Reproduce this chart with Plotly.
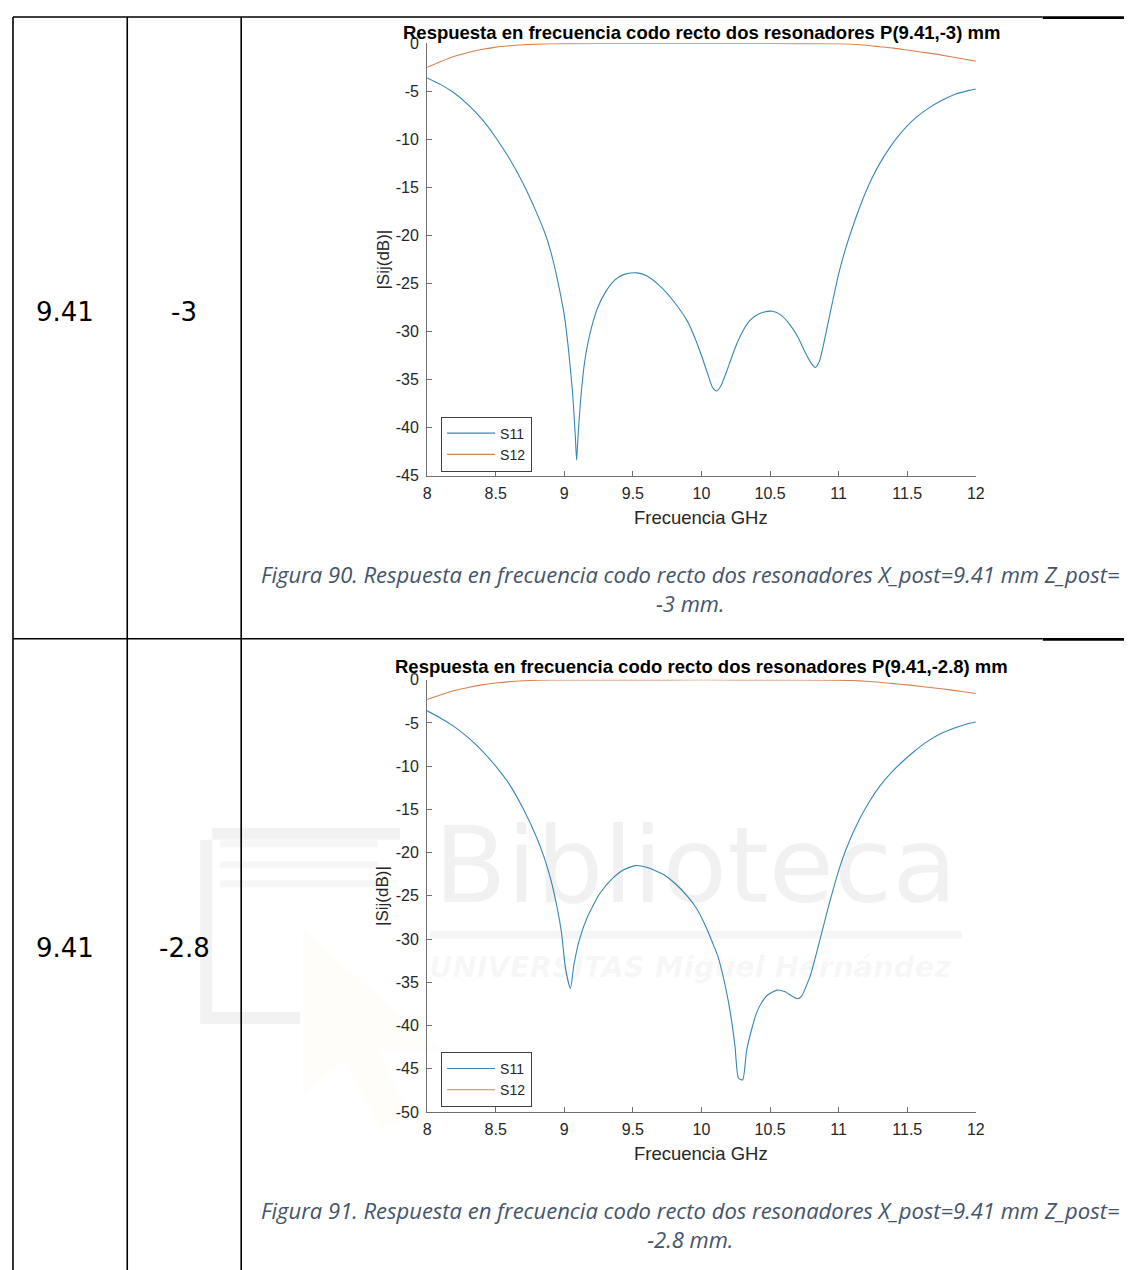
import plotly.graph_objects as go

# ---------------- data ----------------
x_post = ["9.41", "9.41"]
z_post = ["-3", "-2.8"]
chart_titles = [
    "Respuesta en frecuencia codo recto dos resonadores P(9.41,-3) mm",
    "Respuesta en frecuencia codo recto dos resonadores P(9.41,-2.8) mm",
]
captions_l1 = [
    "Figura 90. Respuesta en frecuencia codo recto dos resonadores X_post=9.41 mm Z_post=",
    "Figura 91. Respuesta en frecuencia codo recto dos resonadores X_post=9.41 mm Z_post=",
]
captions_l2 = ["-3 mm.", "-2.8 mm."]
series_names = ["S11", "S12"]

x_ticks = [8, 8.5, 9, 9.5, 10, 10.5, 11, 11.5, 12]
x_ticklabels = ["8", "8.5", "9", "9.5", "10", "10.5", "11", "11.5", "12"]
y_ticks_a = [0, -5, -10, -15, -20, -25, -30, -35, -40, -45]
y_ticklabels_a = ["0", "-5", "-10", "-15", "-20", "-25", "-30", "-35", "-40", "-45"]
y_ticks_b = [0, -5, -10, -15, -20, -25, -30, -35, -40, -45, -50]
y_ticklabels_b = ["0", "-5", "-10", "-15", "-20", "-25", "-30", "-35", "-40", "-45", "-50"]

# chart 1 (Z_post = -3)
freq_s11_a = [8.00, 8.10, 8.20, 8.30, 8.40, 8.50, 8.60, 8.70, 8.80, 8.86, 8.90, 8.95,
              9.00, 9.03, 9.06, 9.08, 9.09, 9.10, 9.12, 9.15, 9.20, 9.25, 9.30, 9.35,
              9.40, 9.45, 9.53, 9.60, 9.70, 9.80, 9.90, 9.95, 10.00, 10.05, 10.08, 10.11,
              10.14, 10.18, 10.22, 10.26, 10.30, 10.35, 10.40, 10.45, 10.52, 10.58, 10.64,
              10.70, 10.75, 10.80, 10.83, 10.86, 10.88, 10.92, 10.96, 11.00, 11.05, 11.10,
              11.15, 11.20, 11.25, 11.30, 11.38, 11.45, 11.55, 11.65, 11.75, 11.85, 11.95, 12.00]
s11_a = [-3.6, -4.3, -5.2, -6.4, -7.9, -9.8, -12.0, -14.6, -17.7, -19.8, -21.6, -24.6,
         -28.3, -31.8, -36.3, -40.8, -43.4, -41.0, -37.0, -33.0, -29.5, -27.3, -25.9, -24.9,
         -24.3, -24.0, -23.9, -24.2, -25.3, -26.9, -29.0, -30.6, -32.5, -34.6, -35.8, -36.2,
         -35.7, -34.3, -32.7, -31.2, -30.0, -28.9, -28.3, -28.0, -27.9, -28.3, -29.2,
         -30.5, -32.0, -33.3, -33.75, -33.1, -32.0, -29.3, -26.6, -24.0, -21.4, -19.2,
         -17.2, -15.4, -13.85, -12.5, -10.7, -9.4, -7.9, -6.8, -5.95, -5.3, -4.9, -4.75]
freq_s12_a = [8.00, 8.10, 8.20, 8.30, 8.40, 8.50, 8.60, 8.70, 8.80, 9.00, 9.50, 10.00,
              10.50, 11.00, 11.10, 11.20, 11.30, 11.40, 11.50, 11.60, 11.70, 11.80, 11.90, 12.00]
s12_a = [-2.5, -1.9, -1.35, -0.95, -0.65, -0.4, -0.25, -0.15, -0.08, -0.03, -0.02, -0.01,
         -0.02, -0.05, -0.1, -0.2, -0.35, -0.5, -0.7, -0.9, -1.1, -1.35, -1.6, -1.85]

# chart 2 (Z_post = -2.8)
freq_s11_b = [8.00, 8.10, 8.20, 8.30, 8.40, 8.50, 8.60, 8.70, 8.80, 8.85, 8.90, 8.95,
              8.98, 9.01, 9.045, 9.07, 9.11, 9.17, 9.26, 9.35, 9.43, 9.52, 9.60, 9.72,
              9.81, 9.90, 9.97, 10.03, 10.08, 10.12, 10.18, 10.22, 10.245, 10.27, 10.30,
              10.33, 10.37, 10.40, 10.44, 10.48, 10.55, 10.61, 10.66, 10.70, 10.73, 10.77,
              10.80, 10.86, 10.92, 10.97, 11.02, 11.08, 11.15, 11.22, 11.30, 11.38, 11.46,
              11.55, 11.65, 11.75, 11.85, 11.93, 12.00]
s11_b = [-3.6, -4.45, -5.45, -6.7, -8.2, -10.0, -12.1, -14.9, -18.3, -20.4, -23.0, -26.5,
         -29.3, -33.5, -35.7, -33.0, -30.1, -27.4, -24.7, -23.0, -22.0, -21.5, -21.7, -22.5,
         -23.6, -25.1, -26.6, -28.5, -30.4, -32.0, -35.9, -39.5, -42.5, -46.1, -46.3,
         -42.8, -40.2, -38.6, -37.3, -36.5, -35.9, -36.1, -36.6, -36.9, -36.6, -35.2,
         -33.9, -30.3, -26.6, -23.7, -21.1, -18.6, -16.2, -14.2, -12.3, -10.8, -9.55,
         -8.3, -7.1, -6.2, -5.55, -5.15, -4.9]
freq_s12_b = [8.00, 8.10, 8.20, 8.30, 8.40, 8.50, 8.60, 8.70, 8.80, 9.00, 9.50, 10.00,
              10.50, 11.00, 11.10, 11.20, 11.30, 11.40, 11.50, 11.60, 11.70, 11.80, 11.90, 12.00]
s12_b = [-2.3, -1.75, -1.25, -0.9, -0.6, -0.38, -0.22, -0.12, -0.06, -0.03, -0.02, -0.01,
         -0.02, -0.05, -0.1, -0.18, -0.3, -0.45, -0.6, -0.78, -0.96, -1.15, -1.37, -1.6]

# ---------------- layout helpers ----------------
WF, HF = 1132, 1270


def fx(r):
    # page position (as seen in the reference) -> paper fraction
    return ((r - 11.7) / 0.989) / WF


def fy(r):
    return 1 - ((r - 16.7) / 0.986) / HF


C_S11 = "#3587b8"
C_S12 = "#d9804f"
AX_COLOR = "#707070"
TXT = "#262626"
FONT = "Liberation Sans, Arial, sans-serif"

fig = go.Figure()

line_kw = dict(shape="spline", smoothing=0.6, width=1.1)
fig.add_trace(go.Scatter(x=freq_s11_a, y=s11_a, mode="lines", name=series_names[0],
                         line=dict(color=C_S11, **line_kw), xaxis="x", yaxis="y", legend="legend"))
fig.add_trace(go.Scatter(x=freq_s12_a, y=s12_a, mode="lines", name=series_names[1],
                         line=dict(color=C_S12, **line_kw), xaxis="x", yaxis="y", legend="legend"))
fig.add_trace(go.Scatter(x=freq_s11_b, y=s11_b, mode="lines", name=series_names[0],
                         line=dict(color=C_S11, **line_kw), xaxis="x2", yaxis="y2", legend="legend2"))
fig.add_trace(go.Scatter(x=freq_s12_b, y=s12_b, mode="lines", name=series_names[1],
                         line=dict(color=C_S12, **line_kw), xaxis="x2", yaxis="y2", legend="legend2"))

xdom = [fx(427), fx(976)]
ydom_a = [fy(476), fy(44)]
ydom_b = [fy(1112), fy(680)]


def xaxis_cfg(anchor):
    return dict(domain=xdom, anchor=anchor, range=[8, 12], tickvals=x_ticks, ticktext=x_ticklabels,
                showline=True, linecolor=AX_COLOR, linewidth=1, ticks="inside", ticklen=5,
                tickcolor=AX_COLOR, showgrid=False, zeroline=False, mirror=False,
                tickfont=dict(family=FONT, size=16, color=TXT), ticklabelstandoff=3,
                fixedrange=True)


def yaxis_cfg(anchor, dom, rng, tv, tt):
    return dict(domain=dom, anchor=anchor, range=rng, tickvals=tv, ticktext=tt,
                showline=True, linecolor=AX_COLOR, linewidth=1, ticks="inside", ticklen=5,
                tickcolor=AX_COLOR, showgrid=False, zeroline=False, mirror=False,
                tickfont=dict(family=FONT, size=16, color=TXT), ticklabelstandoff=4,
                fixedrange=True)


shapes = []
# watermark (very faint, below everything)
wm = "rgba(0,0,0,0.05)"
shapes.append(dict(type="path", layer="below", xref="paper", yref="paper",
                   path=f"M {fx(212)} {fy(834)} L {fx(400)} {fy(834)} "
                        f"M {fx(206)} {fy(840)} L {fx(206)} {fy(1018)} L {fx(300)} {fy(1018)}",
                   line=dict(color=wm, width=12)))
for yy in (844, 865, 884):
    shapes.append(dict(type="line", layer="below", xref="paper", yref="paper",
                       x0=fx(220), x1=fx(378), y0=fy(yy), y1=fy(yy),
                       line=dict(color="rgba(0,0,0,0.035)", width=7)))
shapes.append(dict(type="line", layer="below", xref="paper", yref="paper",
                   x0=fx(430), x1=fx(962), y0=fy(935), y1=fy(935),
                   line=dict(color="rgba(0,0,0,0.04)", width=8)))
shapes.append(dict(type="path", layer="below", xref="paper", yref="paper",
                   path=f"M {fx(303)} {fy(930)} L {fx(303)} {fy(1095)} L {fx(345)} {fy(1060)} "
                        f"L {fx(380)} {fy(1130)} L {fx(410)} {fy(1115)} L {fx(378)} {fy(1050)} "
                        f"L {fx(440)} {fy(1050)} Z",
                   fillcolor="rgba(240,200,90,0.035)", line=dict(width=0)))

# table lines (the outermost ones sit on the figure's own edge)
BL = "#000000"
edge_x = 1.0 / WF
edge_y = 1 - 1.0 / HF
for x0 in (edge_x, fx(127), fx(241)):
    shapes.append(dict(type="line", xref="paper", yref="paper", x0=x0, x1=x0,
                       y0=edge_y, y1=-0.01, line=dict(color=BL, width=1.6)))
for y0 in (edge_y, fy(639)):
    shapes.append(dict(type="line", xref="paper", yref="paper", x0=edge_x, x1=fx(1043),
                       y0=y0, y1=y0, line=dict(color=BL, width=1.4)))
    shapes.append(dict(type="line", xref="paper", yref="paper", x0=fx(1043), x1=1.01,
                       y0=y0 - 0.6 / HF, y1=y0 - 0.6 / HF, line=dict(color=BL, width=2.8)))

annotations = []
# watermark text
annotations.append(dict(text="Biblioteca", xref="paper", yref="paper", x=fx(696), y=fy(866),
                        xanchor="center", yanchor="middle", showarrow=False,
                        font=dict(family="DejaVu Sans", size=106, color="rgba(0,0,0,0.055)")))
annotations.append(dict(text="<b><i>UNIVERSITAS Miguel Hernández</i></b>", xref="paper", yref="paper",
                        x=fx(690), y=fy(967), xanchor="center", yanchor="middle", showarrow=False,
                        font=dict(family="DejaVu Sans", size=29, color="rgba(0,0,0,0.045)")))

row_centers = [313, 948]
title_y = [33, 667]
xlabel_y = [518, 1153]
ylabel_y = [260, 896]
cap_y = [589, 1224]
for i in range(2):
    annotations.append(dict(text=x_post[i], xref="paper", yref="paper", x=fx(65), y=fy(row_centers[i]),
                            xanchor="center", yanchor="middle", showarrow=False,
                            font=dict(family="DejaVu Sans", size=26, color="#000000")))
    annotations.append(dict(text=z_post[i], xref="paper", yref="paper", x=fx(184), y=fy(row_centers[i]),
                            xanchor="center", yanchor="middle", showarrow=False,
                            font=dict(family="DejaVu Sans", size=26, color="#000000")))
    annotations.append(dict(text=f"<b>{chart_titles[i]}</b>", xref="paper", yref="paper", x=fx(702),
                            y=fy(title_y[i]), xanchor="center", yanchor="middle", showarrow=False,
                            font=dict(family=FONT, size=18.5, color="#000000")))
    annotations.append(dict(text="Frecuencia GHz", xref="paper", yref="paper", x=fx(701),
                            y=fy(xlabel_y[i]), xanchor="center", yanchor="middle", showarrow=False,
                            font=dict(family=FONT, size=18.5, color=TXT)))
    annotations.append(dict(text="|Sij(dB)|", xref="paper", yref="paper", x=fx(383),
                            y=fy(ylabel_y[i]), xanchor="center", yanchor="middle", showarrow=False,
                            textangle=-90, font=dict(family=FONT, size=17, color=TXT)))
    annotations.append(dict(text=f"<i>{captions_l1[i]}<br>{captions_l2[i]}</i>", xref="paper",
                            yref="paper", x=fx(690), y=fy(cap_y[i]), xanchor="center",
                            yanchor="middle", align="center", showarrow=False,
                            font=dict(family="Open Sans", size=22, color="#44546A")))

legend_common = dict(xref="paper", yref="paper", xanchor="left", yanchor="top",
                     bgcolor="#ffffff", bordercolor="#404040", borderwidth=1,
                     font=dict(family=FONT, size=14, color=TXT), itemwidth=48,
                     tracegroupgap=0)

fig.update_layout(
    width=WF, height=HF, autosize=False,
    margin=dict(l=0, r=0, t=0, b=0),
    paper_bgcolor="#ffffff", plot_bgcolor="rgba(0,0,0,0)",
    showlegend=True,
    xaxis=xaxis_cfg("y"),
    yaxis=yaxis_cfg("x", ydom_a, [-45, 0], y_ticks_a, y_ticklabels_a),
    xaxis2=xaxis_cfg("y2"),
    yaxis2=yaxis_cfg("x2", ydom_b, [-50, 0], y_ticks_b, y_ticklabels_b),
    legend=dict(x=fx(441), y=fy(417), **legend_common),
    legend2=dict(x=fx(441), y=fy(1052), **legend_common),
    shapes=shapes,
    annotations=annotations,
)

fig.write_html("out.html")
